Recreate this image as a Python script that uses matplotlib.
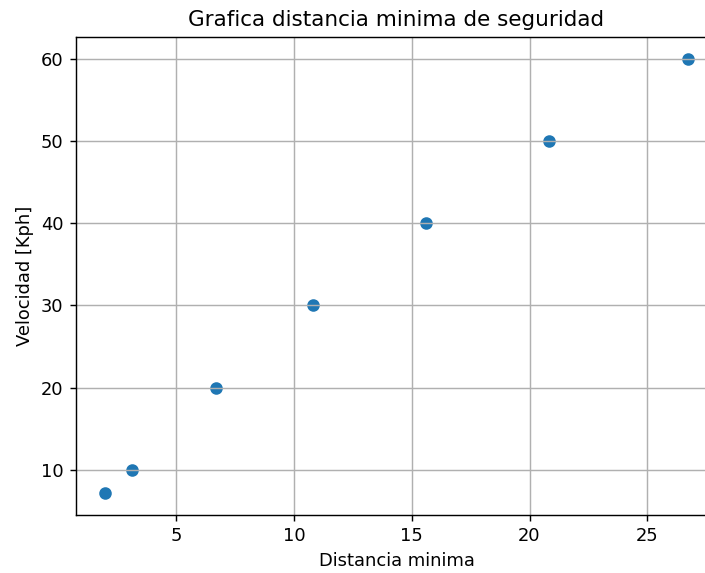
import matplotlib
matplotlib.use("Agg")
import matplotlib.pyplot as plt

# Distancia minima de seguridad para cada velocidad
distancia = [1.99, 3.14, 6.70, 10.81, 15.61, 20.82, 26.72]
velocidad = [7.2, 10, 20, 30, 40, 50, 60]

DPI = 129
W, H = 705, 573
fig = plt.figure(figsize=(W / DPI, H / DPI), dpi=DPI)

# Axes placed in pixel coordinates (left, bottom, width, height)
left, right, top, bottom = 76, 717, 37, 514.5
ax = fig.add_axes([left / W, (H - bottom) / H, (right - left) / W, (bottom - top) / H])

ax.scatter(distancia, velocidad)
ax.set_title("Grafica distancia minima de seguridad")
ax.set_xlabel("Distancia minima")
ax.set_ylabel("Velocidad [Kph]")
ax.grid(True)

fig.savefig("out.png", dpi=DPI)
